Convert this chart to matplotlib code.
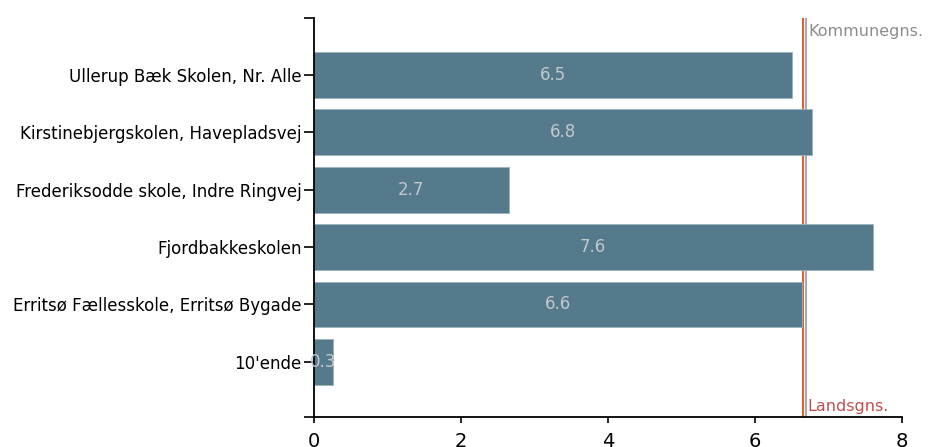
import matplotlib
matplotlib.use("Agg")
import matplotlib.pyplot as plt

skoler = ["Ullerup Bæk Skolen, Nr. Alle",
          "Kirstinebjergskolen, Havepladsvej",
          "Frederiksodde skole, Indre Ringvej",
          "Fjordbakkeskolen",
          "Erritsø Fællesskole, Erritsø Bygade",
          "10'ende"]
vaerdier = [6.50, 6.77, 2.66, 7.60, 6.64, 0.26]
landsgns = 6.65
kommunegns = 6.69
xticks = [0, 2, 4, 6, 8]

bar_farve = "#557a8c"

fig = plt.figure(figsize=(9.31, 4.47), dpi=100)
ax = fig.add_axes([313.5/931, 30/447, (902.3-313.5)/931, (417-18)/447])

# linjerne ligger bag søjlerne
ax.axvline(landsgns, color="#d2643c", lw=1.5, zorder=1)
ax.axvline(kommunegns, color="#aaaaaa", lw=1.5, zorder=1)

pos = list(range(len(skoler)))
ax.barh(pos, vaerdier, height=0.8, color=bar_farve, edgecolor="#9bb3bf",
        linewidth=0.6, zorder=2)

for p, v in zip(pos, vaerdier):
    ax.text(v/2, p, f"{v:.1f}", ha="center", va="center", color="#c4c8cc",
            fontsize=12, zorder=3)

ax.text(kommunegns + 0.03, 0.965, "Kommunegns.", transform=ax.get_xaxis_transform(),
        color="#8c8c8c", fontsize=11.5, va="center", ha="left")
ax.text(kommunegns + 0.02, 0.027, "Landsgns.", transform=ax.get_xaxis_transform(),
        color="#c0504d", fontsize=11.5, va="center", ha="left")

ax.set_xlim(0, 8)
ax.set_ylim(5.96, -0.99)
ax.set_xticks(xticks)
ax.set_yticks(pos)
ax.set_yticklabels(skoler, fontsize=12)
ax.set_yticks([5.96, -0.99], minor=True)
ax.tick_params(axis="y", which="both", length=7.5, width=1.2, pad=1)
ax.tick_params(axis="x", length=4.5, width=1.2, labelsize=14, pad=6.5)

for s in ["top", "right"]:
    ax.spines[s].set_visible(False)
for s in ["left", "bottom"]:
    ax.spines[s].set_linewidth(1.3)

fig.savefig("out.png", dpi=100)
